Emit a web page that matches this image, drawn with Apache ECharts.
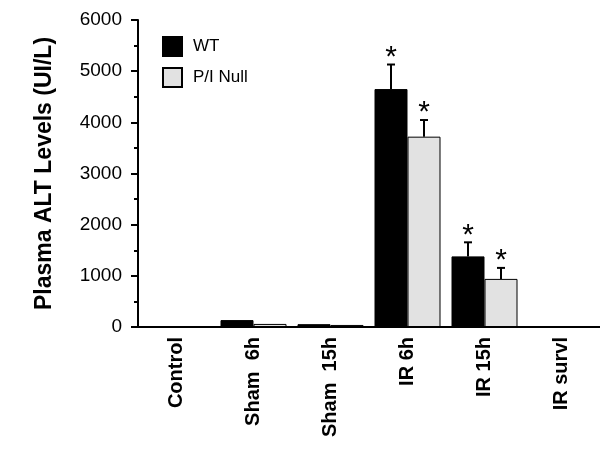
<!DOCTYPE html>
<html>
<head>
<meta charset="utf-8">
<script src="https://cdn.jsdelivr.net/npm/echarts@6/dist/echarts.min.js"></script>
<style>
  html, body { margin: 0; padding: 0; background: #fff; }
  #main { width: 600px; height: 451px; }
</style>
</head>
<body>
<div id="main"></div>
<script>
// values
const categories = ['Control', 'Sham  6h', 'Sham  15h', 'IR 6h', 'IR 15h', 'IR survl'];
const wtValues = [0, 135, 55, 4650, 1380, 0];
const wtErrors = [0, 0, 0, 480, 275, 0];
const wtStars = [0, 0, 0, 1, 1, 0];
const nullValues = [0, 60, 40, 3720, 940, 0];
const nullErrors = [0, 0, 0, 325, 215, 0];
const nullStars = [0, 0, 0, 1, 1, 0];
const yTicks = { min: 0, max: 6000, interval: 1000 };

const BAR_W = 33;
const FONT = '"Liberation Sans", Arial, sans-serif';

function errData(vals, errs, stars) {
  return vals.map(function (v, i) { return [i, v, errs[i], stars[i]]; });
}

function errRender(offset) {
  return function (params, api) {
    const i = api.value(0), v = api.value(1), e = api.value(2), s = api.value(3);
    const base = api.coord([i, v]);
    const top = api.coord([i, v + e]);
    const x = base[0] + offset;
    const children = [];
    if (e > 0) {
      children.push({
        type: 'line',
        shape: { x1: x, y1: base[1], x2: x, y2: top[1] },
        style: { stroke: '#000', lineWidth: 2 }
      });
      children.push({
        type: 'line',
        shape: { x1: x - 4, y1: top[1], x2: x + 4, y2: top[1] },
        style: { stroke: '#000', lineWidth: 2 }
      });
    }
    if (s) {
      children.push({
        type: 'text',
        style: {
          x: x, y: top[1] - 7, text: '*',
          font: '30px ' + FONT, fill: '#000',
          align: 'center', verticalAlign: 'middle'
        }
      });
    }
    return { type: 'group', children: children };
  };
}

const chart = echarts.init(document.getElementById('main'));
chart.setOption({
  animation: false,
  backgroundColor: '#fff',
  textStyle: { fontFamily: FONT },
  grid: { left: 138, right: 0, top: 20, bottom: 124 },
  legend: {
    data: ['WT', 'P/I Null'],
    orient: 'vertical',
    left: 157,
    top: 31,
    itemWidth: 19,
    itemHeight: 19,
    itemGap: 10,
    icon: 'rect',
    textStyle: { fontSize: 17, color: '#000', padding: [0, 0, 0, 6] }
  },
  xAxis: {
    type: 'category',
    data: categories,
    axisLine: { lineStyle: { color: '#000', width: 2 } },
    axisTick: { alignWithLabel: true, length: 6, lineStyle: { color: '#000', width: 2 } },
    axisLabel: {
      rotate: 90, margin: 10, color: '#000',
      fontSize: 20, fontWeight: 'bold', fontFamily: FONT
    }
  },
  yAxis: {
    type: 'value',
    min: yTicks.min,
    max: yTicks.max,
    interval: yTicks.interval,
    name: 'Plasma ALT Levels (UI/L)',
    nameLocation: 'middle',
    nameGap: 82,
    nameTextStyle: { fontSize: 23, fontWeight: 'bold', color: '#000', fontFamily: FONT },
    splitLine: { show: false },
    axisLine: { show: true, lineStyle: { color: '#000', width: 2 } },
    axisTick: { show: true, length: 7, lineStyle: { color: '#000', width: 2 } },
    minorTick: { show: true, splitNumber: 2, length: 4, lineStyle: { color: '#000', width: 2 } },
    axisLabel: {
      fontSize: 19, color: '#000', margin: 16, fontFamily: FONT,
      formatter: function (v) { return String(v); }
    }
  },
  series: [
    {
      name: 'WT',
      type: 'bar',
      data: wtValues,
      barWidth: BAR_W,
      barGap: '0%',
      itemStyle: { color: '#000', borderColor: '#000', borderWidth: 1 }
    },
    {
      name: 'P/I Null',
      type: 'bar',
      data: nullValues,
      barWidth: BAR_W,
      itemStyle: { color: '#e2e2e2', borderColor: '#000', borderWidth: 1 }
    },
    {
      name: 'WT err',
      type: 'custom',
      data: errData(wtValues, wtErrors, wtStars),
      renderItem: errRender(-BAR_W / 2),
      z: 5
    },
    {
      name: 'Null err',
      type: 'custom',
      data: errData(nullValues, nullErrors, nullStars),
      renderItem: errRender(BAR_W / 2),
      z: 5
    }
  ]
});
</script>
</body>
</html>
